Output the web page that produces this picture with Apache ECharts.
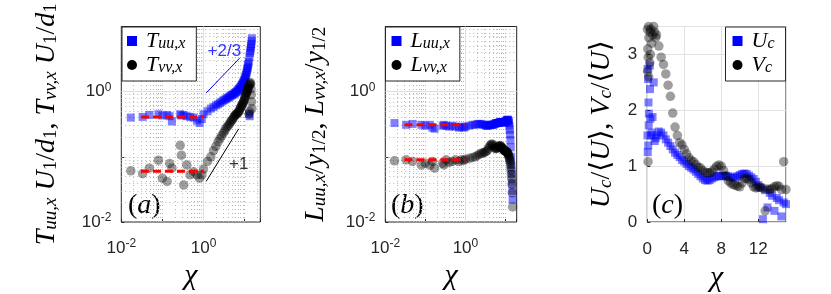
<!DOCTYPE html>
<html><head><meta charset="utf-8">
<script src="https://cdn.jsdelivr.net/npm/echarts@6/dist/echarts.min.js"></script>
<style>html,body{margin:0;padding:0;background:#fff}#c{width:831px;height:294px}</style>
</head><body><div id="c"></div>
<script>
// ---------------- data ----------------
const X = [0.017,0.033,0.048,0.08,0.1,0.13,0.15,0.17,0.27,0.29,0.33,0.39,0.47,0.57,0.69,0.8,0.91,
  1.0,1.25,1.5,1.75,2.0,2.25,2.5,2.75,3.0,3.25,3.5,3.75,4.0,4.25,4.5,4.75,5.0,5.25,5.5,5.75,6.0,6.25,6.5,6.75,
  7.0,7.25,7.5,7.75,8.0,8.25,8.5,8.75,9.0,9.25,9.5,9.75,10.0,10.25,10.5,10.75,11.0,11.25,11.5,11.75,
  12.0,12.25,12.5,12.75,13.0,13.25,13.5,13.75,14.0,14.25,14.5,14.75,15.0];
const Tuu = [0.40,0.41,0.44,0.45,0.43,0.44,0.42,0.35,0.45,0.43,0.44,0.42,0.41,0.40,0.36,0.33,0.38,
  0.45,0.50,0.55,0.58,0.62,0.64,0.67,0.70,0.73,0.75,0.77,0.80,0.81,0.84,0.85,0.88,0.89,0.91,0.93,0.95,0.97,0.99,1.01,1.04,
  1.06,1.09,1.12,1.15,1.18,1.22,1.26,1.30,1.34,1.38,1.43,1.49,1.56,1.63,1.70,1.80,1.90,2.02,2.15,2.30,
  2.45,2.65,2.85,0.46,3.35,0.42,3.90,4.20,4.60,5.00,5.40,6.00,6.60];
const Tvv = [0.061,0.055,0.067,0.089,0.047,0.042,0.079,0.067,0.15,0.106,0.037,0.075,0.053,0.059,0.053,0.047,0.053,
  0.065,0.085,0.10,0.125,0.145,0.17,0.19,0.21,0.23,0.25,0.27,0.29,0.30,0.32,0.34,0.36,0.37,0.39,0.41,0.43,0.44,0.45,0.46,0.47,
  0.48,0.50,0.52,0.55,0.57,0.59,0.61,0.63,0.66,0.68,0.71,0.75,0.79,0.83,0.87,0.91,0.95,0.98,1.02,1.07,
  1.12,1.17,1.21,0.45,1.27,0.50,1.33,1.38,1.30,1.10,0.90,0.70,0.55];
const Luu = [0.33,0.31,0.32,0.31,0.30,0.31,0.28,0.27,0.30,0.31,0.30,0.29,0.30,0.29,0.28,0.29,0.28,
  0.29,0.30,0.31,0.31,0.32,0.32,0.32,0.31,0.31,0.30,0.30,0.30,0.31,0.31,0.31,0.31,0.31,0.32,0.32,0.33,0.33,0.33,0.33,0.33,
  0.34,0.34,0.34,0.34,0.34,0.34,0.34,0.34,0.34,0.34,0.34,0.34,0.35,0.35,0.36,0.36,0.37,0.37,0.37,0.36,
  0.35,0.33,0.30,0.26,0.22,0.18,0.14,0.10,0.075,0.055,0.04,0.03,0.022];
const Lvv = [0.087,0.09,0.085,0.075,0.08,0.074,0.085,0.067,0.08,0.075,0.09,0.082,0.085,0.09,0.085,0.09,0.088,
  0.092,0.095,0.098,0.10,0.105,0.11,0.113,0.115,0.118,0.12,0.125,0.135,0.145,0.152,0.158,0.155,0.148,0.14,0.135,0.133,0.135,0.138,0.142,0.145,
  0.147,0.148,0.146,0.143,0.14,0.137,0.134,0.131,0.128,0.126,0.124,0.123,0.122,0.121,0.12,0.119,0.117,0.115,0.112,0.108,
  0.104,0.10,0.095,0.09,0.085,0.078,0.07,0.062,0.054,0.046,0.038,0.028,0.017];
const Uc = [1.55,2.74,1.25,2.56,1.37,2.14,1.73,1.94,2.8,2.38,1.85,1.55,1.6,1.88,2.5,1.45,1.5,
  1.55,1.62,1.6,1.55,1.48,1.42,1.36,1.3,1.24,1.2,1.16,1.11,1.08,1.04,1.0,0.97,0.94,0.9,0.86,0.82,0.78,0.75,0.74,0.75,
  0.78,0.8,0.82,0.82,0.82,0.83,0.83,0.82,0.8,0.79,0.8,0.82,0.84,0.86,0.87,0.86,0.83,0.8,0.77,0.72,
  0.66,0.62,0.05,0.57,0.26,0.52,0.47,0.2,0.43,0.39,0.1,0.35,0.32];
const Vc = [3.45,2.7,3.1,1.08,2.95,3.5,2.6,3.3,2.85,3.4,3.0,3.45,3.2,3.35,3.5,3.4,3.3,
  3.35,3.15,2.95,2.82,2.65,2.45,2.25,1.95,1.7,1.55,1.42,1.38,1.3,1.22,1.15,1.1,1.08,1.03,0.98,0.97,0.92,0.89,0.88,0.88,
  0.9,0.95,1.0,1.02,1.0,0.92,0.82,0.74,0.7,0.67,0.66,0.64,0.63,0.7,0.78,0.78,0.76,0.7,0.63,0.61,
  0.62,0.62,0.6,0.2,0.59,0.58,0.6,0.63,0.65,0.64,0.58,1.08,0.58];
// reference lines / fits
const FIT_A_U = [[0.03,0.41],[1,0.41]];
const FIT_A_V = [[0.03,0.06],[1,0.06]];
const FIT_B_U = [[0.03,0.31],[1,0.31]];
const FIT_B_V = [[0.03,0.09],[1,0.09]];
const SLOPE_23 = [[1.16,0.955],[7.55,3.27]];
const SLOPE_1 = [[1.16,0.042],[7.14,0.269]];
const LBL_23 = [3.2,4.2];
const LBL_1 = [7.2,0.076];
// tick / grid values
const MINOR_LOG_A = [0.02,0.03,0.04,0.05,0.06,0.07,0.08,0.09,0.1,0.2,0.3,0.4,0.5,0.6,0.7,0.8,0.9,2,3,4,5,6,7,8,9,10,20];
const MINOR_LOG_B = [0.02,0.03,0.04,0.05,0.06,0.07,0.08,0.09,0.1,0.2,0.3,0.4,0.5,0.6,0.7,0.8,0.9,2,3,4,5,6,7,8,9,10];
const MINOR_LOG_Y = [0.02,0.03,0.04,0.05,0.06,0.07,0.08,0.09,0.1,0.2,0.3,0.4,0.5,0.6,0.7,0.8,0.9,2,3,4,5,6,7,8,9];
const MAJOR_LOG = [1];

// ---------------- styles ----------------
const FM = "'Liberation Serif','DejaVu Serif',serif";
const FS = "'Liberation Sans',Arial,sans-serif";
const AXC = '#262626';
const BLUE = '#0000ff';
function mrich(size, sub) {
  return {
    i: {fontFamily: FM, fontStyle: 'italic', fontSize: size, lineHeight: size, color: '#000'},
    n: {fontFamily: FM, fontSize: size, lineHeight: size, color: '#000'},
    s: {fontFamily: FM, fontStyle: 'italic', fontSize: sub, lineHeight: Math.round(sub * 0.7), verticalAlign: 'bottom', color: '#000'},
    sn: {fontFamily: FM, fontSize: sub, lineHeight: Math.round(sub * 0.7), verticalAlign: 'bottom', color: '#000'},
    x: {fontFamily: FM, fontStyle: 'italic', fontSize: 30, lineHeight: 30, color: '#000'}
  };
}
const tickRich = {
  b: {fontFamily: FS, fontSize: 17, lineHeight: 20, color: AXC},
  p: {fontFamily: FS, fontSize: 12, lineHeight: 8, verticalAlign: 'top', color: AXC}
};
function logFmt(v) {
  const e = Math.log10(v);
  if (Math.abs(e + 2) < 1e-6) return '{b|10}{p|-2}';
  if (Math.abs(e) < 1e-6) return '{b|10}{p|0}';
  return '';
}
const LEG = {
  Tuu: '{i|T}{s|uu,x}', Tvv: '{i|T}{s|vv,x}',
  Luu: '{i|L}{s|uu,x}', Lvv: '{i|L}{s|vv,x}',
  Uc: '{i|U}{s|c}', Vc: '{i|V}{s|c}'
};

function logAxis(gi, min, max, isX, extra) {
  return Object.assign({
    type: 'log', logBase: 10, gridIndex: gi, min: min, max: max,
    axisLine: {show: false},
    axisTick: {show: true, inside: true, length: 3, lineStyle: {color: AXC}},
    axisLabel: {formatter: logFmt, margin: isX ? 16 : 10, rich: tickRich, hideOverlap: false},
    splitLine: {show: false}, minorTick: {show: false}
  }, extra || {});
}
function valAxis(gi, min, max, interval, isX, extra) {
  return Object.assign({
    type: 'value', gridIndex: gi, min: min, max: max, interval: interval,
    axisLine: {show: false},
    axisTick: {show: true, inside: true, length: 3, lineStyle: {color: AXC}},
    axisLabel: {showMaxLabel: false, margin: isX ? 19 : 10, fontFamily: FS, fontSize: 17, color: AXC},
    splitLine: {show: true, lineStyle: {color: '#e2e2e2', width: 1}}
  }, extra || {});
}

function gridLines(gi, minX, minY) {
  const d = [];
  minX.forEach(v => d.push({xAxis: v}));
  minY.forEach(v => d.push({yAxis: v}));
  const m = [];
  MAJOR_LOG.forEach(v => { m.push({xAxis: v}); m.push({yAxis: v}); });
  return [
    {type: 'line', name: 'gminor' + gi, xAxisIndex: gi, yAxisIndex: gi, data: [], silent: true, z: 1,
     markLine: {silent: true, symbol: 'none', animation: false, label: {show: false}, z: 1,
       lineStyle: {color: '#b4b4b4', width: 1, type: [1, 3]}, data: d}},
    {type: 'line', name: 'gmajor' + gi, xAxisIndex: gi, yAxisIndex: gi, data: [], silent: true, z: 1,
     markLine: {silent: true, symbol: 'none', animation: false, label: {show: false}, z: 1,
       lineStyle: {color: '#dedede', width: 1, type: 'solid'}, data: m}}
  ];
}
function pts(ys) { return X.map((x, i) => [x, ys[i]]); }
function scat(name, gi, ys, isSquare) {
  return {
    type: 'scatter', name: name, xAxisIndex: gi, yAxisIndex: gi, data: pts(ys),
    symbol: isSquare ? 'rect' : 'circle', symbolSize: isSquare ? 8 : 9.5,
    itemStyle: {color: isSquare ? BLUE : '#000', opacity: isSquare ? 0.5 : 0.38},
    emphasis: {disabled: true}, silent: true, z: 2
  };
}
function ln(gi, data, color, width, type) {
  return {type: 'line', xAxisIndex: gi, yAxisIndex: gi, data: data, symbol: 'none', silent: true, z: 3,
    lineStyle: {color: color, width: width, type: type}, emphasis: {disabled: true}};
}
function txt(gi, p, text, color) {
  return {type: 'scatter', xAxisIndex: gi, yAxisIndex: gi, data: [p], symbolSize: 1, silent: true, z: 4,
    itemStyle: {color: 'rgba(0,0,0,0)'},
    label: {show: true, position: 'inside', formatter: text, color: color, fontFamily: FS, fontSize: 17}};
}
const SQ = 'path://M0,0L10,0L10,10L0,10Z';
function legend(names, pos, pad) {
  return Object.assign({
    data: names.map((n, k) => ({name: n, icon: k === 0 ? SQ : 'circle'})),
    orient: 'vertical', top: 27, padding: pad, itemGap: 2, itemWidth: 18, itemHeight: 10,
    symbolKeepAspect: true,
    backgroundColor: '#fff', borderColor: AXC, borderWidth: 1, borderRadius: 0,
    selectedMode: false, itemStyle: {opacity: 1},
    formatter: n => LEG[n], textStyle: {rich: mrich(22, 16)}
  }, pos);
}
const R28 = mrich(28, 19);

const option = {
  animation: false,
  backgroundColor: '#fff',
  grid: [
    {left: 121.3, top: 26.5, width: 139, height: 195.5},
    {left: 385.3, top: 26.5, width: 131.4, height: 195.5},
    {left: 647.3, top: 26.5, width: 138.7, height: 195.5}
  ].map(g => Object.assign(g, {show: true, borderColor: AXC, borderWidth: 1, backgroundColor: 'transparent', containLabel: false, outerBoundsMode: 'none'})),
  xAxis: [
    logAxis(0, 0.01, 24, true, {name: '{x|χ}', nameLocation: 'middle', nameGap: 39, nameTextStyle: {rich: R28}}),
    logAxis(1, 0.01, 19, true, {name: '{x|χ}', nameLocation: 'middle', nameGap: 39, nameTextStyle: {rich: R28}}),
    valAxis(2, 0, 15, 4, true, {name: '{x|χ}', nameLocation: 'middle', nameGap: 39, nameTextStyle: {rich: R28}})
  ],
  yAxis: [
    logAxis(0, 0.01, 10, false, {name: '{i|T}{s|uu,x}{i| U}{sn|1}{n|/}{i|d}{sn|1}{n|, }{i|T}{s|vv,x}{i| U}{sn|1}{n|/}{i|d}{sn|1}',
      nameLocation: 'middle', nameRotate: 90, nameGap: 61, nameTextStyle: {rich: R28}}),
    logAxis(1, 0.01, 10, false, {name: '{i|L}{s|uu,x}{n|/}{i|y}{sn|1/2}{n|, }{i|L}{s|vv,x}{n|/}{i|y}{sn|1/2}',
      nameLocation: 'middle', nameRotate: 90, nameGap: 56, nameTextStyle: {rich: R28}}),
    valAxis(2, 0, 3.5, 1, false, {name: '{i|U}{s|c}{n|/⟨}{i|U}{n|⟩, }{i|V}{s|c}{n|/⟨}{i|U}{n|⟩}',
      nameLocation: 'middle', nameRotate: 90, nameGap: 32, nameTextStyle: {rich: R28}})
  ],
  legend: [
    legend(['Tuu', 'Tvv'], {left: 122}, [3, 11, 5, 5]),
    legend(['Luu', 'Lvv'], {left: 385.5}, [3, 10, 5, 6]),
    legend(['Uc', 'Vc'], {right: 45.5}, [3, 11, 5, 7])
  ],
  graphic: [
    {type: 'text', left: 128, top: 192, silent: true, style: {text: '{n|(}{i|a}{n|)}', rich: R28}},
    {type: 'text', left: 391, top: 192, silent: true, style: {text: '{n|(}{i|b}{n|)}', rich: R28}},
    {type: 'text', left: 652, top: 192, silent: true, style: {text: '{n|(}{i|c}{n|)}', rich: R28}}
  ],
  series: [].concat(
    gridLines(0, MINOR_LOG_A, MINOR_LOG_Y),
    gridLines(1, MINOR_LOG_B, MINOR_LOG_Y),
    [
      scat('Tuu', 0, Tuu, true), scat('Tvv', 0, Tvv, false),
      scat('Luu', 1, Luu, true), scat('Lvv', 1, Lvv, false),
      scat('Uc', 2, Uc, true), scat('Vc', 2, Vc, false),
      ln(0, FIT_A_U, '#ff0000', 3, [8, 4]), ln(0, FIT_A_V, '#ff0000', 3, [8, 4]),
      ln(1, FIT_B_U, '#ff0000', 3, [8, 4]), ln(1, FIT_B_V, '#ff0000', 3, [8, 4]),
      ln(0, SLOPE_23, BLUE, 1, 'solid'), ln(0, SLOPE_1, '#000', 1, 'solid'),
      txt(0, LBL_23, '+2/3', BLUE), txt(0, LBL_1, '+1', '#000')
    ]
  )
};
const chart = echarts.init(document.getElementById('c'), null, {renderer: 'canvas'});
chart.setOption(option);
</script>
</body></html>
